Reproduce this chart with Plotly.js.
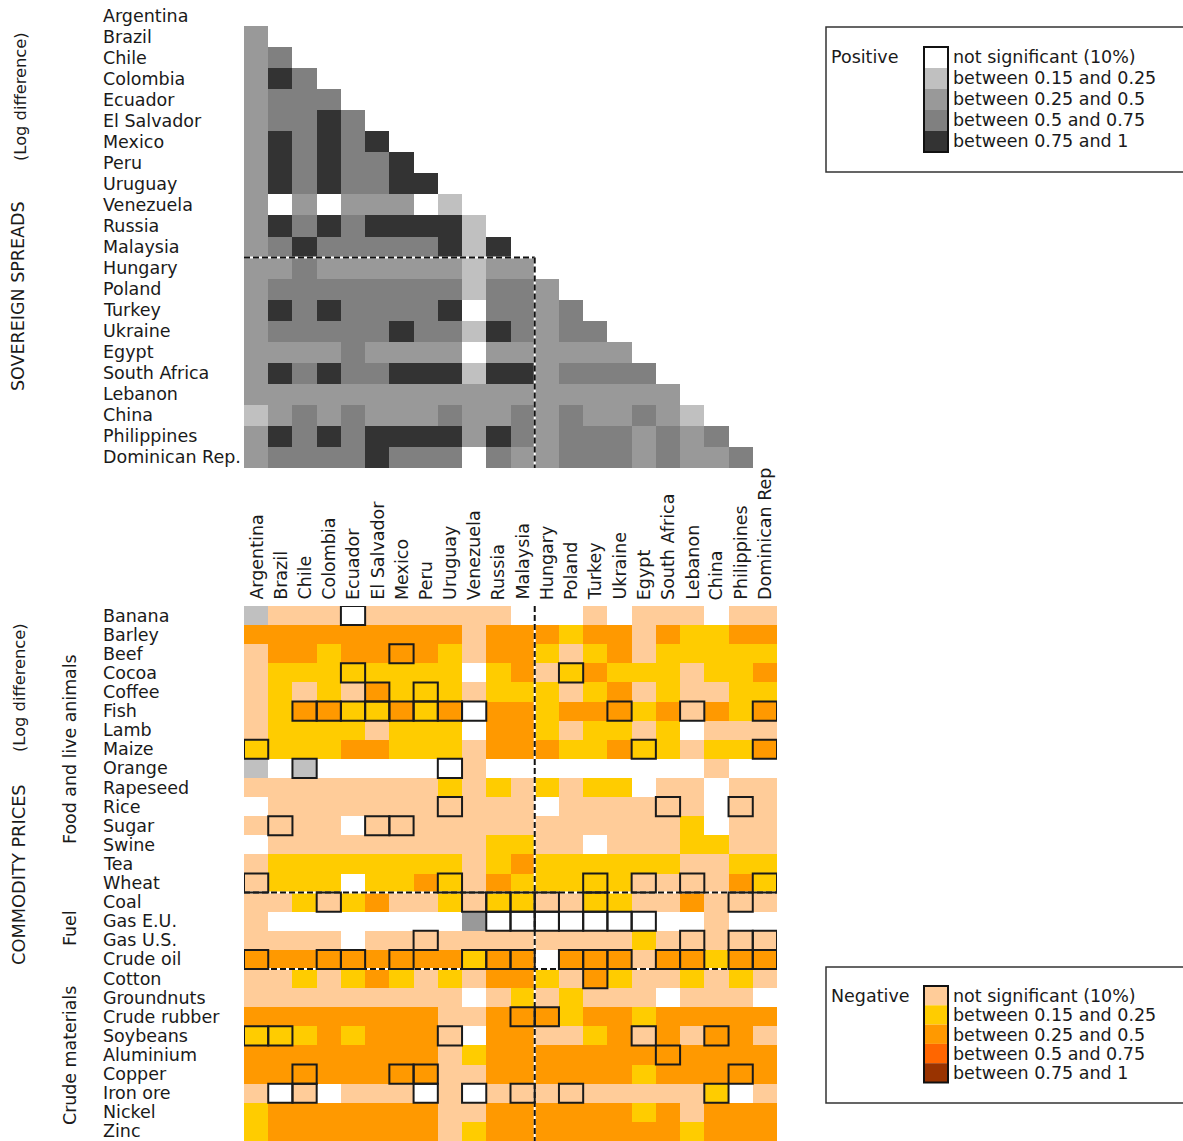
<!DOCTYPE html>
<html><head><meta charset="utf-8">
<script src="https://cdn.plot.ly/plotly-3.0.1.min.js"></script>
<style>html,body{margin:0;padding:0;background:#fff}</style>
</head><body><div id="chart" style="width:1183px;height:1141px"></div>
<script>
// ---------- DATA ----------
const countries = ["Argentina","Brazil","Chile","Colombia","Ecuador","El Salvador","Mexico","Peru","Uruguay","Venezuela","Russia","Malaysia","Hungary","Poland","Turkey","Ukraine","Egypt","South Africa","Lebanon","China","Philippines","Dominican Rep."];
const columnLabels = ["Argentina","Brazil","Chile","Colombia","Ecuador","El Salvador","Mexico","Peru","Uruguay","Venezuela","Russia","Malaysia","Hungary","Poland","Turkey","Ukraine","Egypt","South Africa","Lebanon","China","Philippines","Dominican Rep"];

// level codes: 0 white(pos n.s.),1 .15-.25,2 .25-.5,3 .5-.75,4 .75-1 (positive)
//              5 peach(neg n.s.),6 .15-.25,7 .25-.5,8 .5-.75,9 .75-1 (negative)
const spreadLevels = [
 [],
 [2],
 [2,3],
 [2,4,3],
 [2,3,3,3],
 [2,3,3,4,3],
 [2,4,3,4,3,4],
 [2,4,3,4,3,3,4],
 [2,4,3,4,3,3,4,4],
 [2,0,2,0,2,2,2,0,1],
 [2,4,3,4,3,4,4,4,4,1],
 [2,3,4,3,3,3,3,3,4,1,4],
 [2,2,3,2,2,2,2,2,2,1,2,2],
 [2,3,3,3,3,3,3,3,3,1,3,3,2],
 [2,4,3,4,3,3,3,3,4,0,3,3,2,3],
 [2,3,3,3,3,3,4,3,3,1,4,3,2,3,3],
 [2,2,2,2,3,2,2,2,2,0,2,2,2,2,2,2],
 [2,4,3,4,3,3,4,4,4,1,4,4,2,3,3,3,3],
 [2,2,2,2,2,2,2,2,2,2,2,2,2,2,2,2,2,2],
 [1,2,3,2,3,2,2,2,3,2,2,3,2,3,2,2,3,2,1],
 [2,4,3,4,3,4,4,4,4,2,4,3,2,3,3,3,2,3,2,3],
 [2,3,3,3,3,4,3,3,3,0,3,2,2,3,3,3,2,3,2,2,3]
];

const commodities = ["Banana","Barley","Beef","Cocoa","Coffee","Fish","Lamb","Maize","Orange","Rapeseed","Rice","Sugar","Swine","Tea","Wheat","Coal","Gas E.U.","Gas U.S.","Crude oil","Cotton","Groundnuts","Crude rubber","Soybeans","Aluminium","Copper","Iron ore","Nickel","Zinc"];

const commodityLevels = [
 [1,5,5,5,0,5,5,5,5,5,5,0,0,0,5,0,5,5,5,0,5,5],
 [7,7,7,7,7,7,7,7,7,5,7,7,7,6,7,7,5,7,6,6,7,7],
 [5,7,7,6,7,7,7,7,6,5,7,7,6,5,6,7,5,6,6,6,6,6],
 [5,6,6,6,6,6,6,6,6,0,6,7,5,6,7,6,6,6,5,6,6,7],
 [5,6,5,6,5,7,6,6,6,5,6,6,6,5,6,7,5,6,5,5,6,6],
 [5,6,7,7,6,6,7,6,7,0,7,7,6,7,7,7,6,7,5,7,6,7],
 [5,6,6,6,6,5,6,6,6,0,7,7,6,5,6,6,5,6,0,5,5,5],
 [6,6,6,6,7,7,6,6,6,5,7,7,7,6,6,7,6,6,5,6,6,7],
 [1,0,1,0,0,0,0,0,0,5,0,0,0,0,0,0,0,0,0,5,0,0],
 [5,5,5,5,5,5,5,5,6,5,6,5,6,5,6,6,0,5,5,0,5,5],
 [0,5,5,5,5,5,5,5,5,5,5,5,0,5,5,5,5,5,5,0,5,5],
 [5,5,5,5,0,5,5,5,5,5,5,5,5,5,5,5,5,5,6,0,5,5],
 [0,5,5,5,5,5,5,5,5,5,6,6,5,5,0,5,5,5,6,6,5,5],
 [5,6,6,6,6,6,6,6,6,5,6,7,6,6,6,6,6,6,5,5,6,6],
 [5,6,6,6,0,6,6,7,6,5,7,6,6,6,6,6,5,5,5,5,7,6],
 [5,5,6,5,6,7,5,5,6,5,6,6,5,5,6,6,5,5,7,5,5,5],
 [5,0,0,0,0,0,0,0,0,2,0,0,0,0,0,0,0,0,0,5,0,0],
 [5,5,5,5,0,5,5,5,5,5,5,5,5,5,5,5,6,5,5,5,5,5],
 [7,7,7,7,7,7,7,7,7,6,7,7,0,7,7,7,5,7,7,6,7,7],
 [5,5,6,5,6,7,6,5,6,5,7,7,6,5,7,6,5,5,6,5,6,5],
 [5,5,5,5,5,5,5,5,5,0,5,6,5,6,5,5,5,0,5,5,5,0],
 [7,7,7,7,7,7,7,7,5,5,7,7,7,6,7,7,6,7,7,7,7,7],
 [6,6,6,7,6,7,7,7,5,0,7,7,5,5,6,7,5,7,5,7,7,5],
 [7,7,7,7,7,7,7,7,5,6,7,7,7,7,7,7,7,7,7,7,7,7],
 [7,7,7,7,7,7,7,7,5,5,7,7,7,7,7,7,6,7,7,7,7,7],
 [5,0,5,0,5,5,5,0,5,0,5,5,5,5,5,5,5,5,5,6,0,5],
 [6,7,7,7,7,7,7,7,5,5,7,7,7,7,7,7,6,7,5,7,7,7],
 [6,7,7,7,7,7,7,7,5,6,7,7,7,7,7,7,7,7,6,7,7,7]
];

// outlined (boxed) cells: [commodity, country column]
const boxedCells = [
 ["Banana","Ecuador"],["Beef","Mexico"],["Cocoa","Ecuador"],["Cocoa","Poland"],
 ["Coffee","El Salvador"],["Coffee","Peru"],
 ["Fish","Chile"],["Fish","Colombia"],["Fish","Ecuador"],["Fish","El Salvador"],["Fish","Mexico"],["Fish","Peru"],["Fish","Uruguay"],["Fish","Venezuela"],["Fish","Ukraine"],["Fish","Lebanon"],["Fish","Dominican Rep"],
 ["Maize","Argentina"],["Maize","Egypt"],["Maize","Dominican Rep"],
 ["Orange","Chile"],["Orange","Uruguay"],
 ["Rice","Uruguay"],["Rice","South Africa"],["Rice","Philippines"],
 ["Sugar","Brazil"],["Sugar","El Salvador"],["Sugar","Mexico"],
 ["Wheat","Argentina"],["Wheat","Uruguay"],["Wheat","Turkey"],["Wheat","Egypt"],["Wheat","Lebanon"],["Wheat","Dominican Rep"],
 ["Coal","Colombia"],["Coal","Venezuela"],["Coal","Russia"],["Coal","Malaysia"],["Coal","Hungary"],["Coal","Turkey"],["Coal","Philippines"],
 ["Gas E.U.","Russia"],["Gas E.U.","Malaysia"],["Gas E.U.","Hungary"],["Gas E.U.","Poland"],["Gas E.U.","Turkey"],["Gas E.U.","Ukraine"],["Gas E.U.","Egypt"],
 ["Gas U.S.","Peru"],["Gas U.S.","Lebanon"],["Gas U.S.","Philippines"],["Gas U.S.","Dominican Rep"],
 ["Crude oil","Argentina"],["Crude oil","Colombia"],["Crude oil","Ecuador"],["Crude oil","Mexico"],["Crude oil","Venezuela"],["Crude oil","Russia"],["Crude oil","Malaysia"],["Crude oil","Poland"],["Crude oil","Turkey"],["Crude oil","Ukraine"],["Crude oil","South Africa"],["Crude oil","Lebanon"],["Crude oil","Philippines"],["Crude oil","Dominican Rep"],
 ["Cotton","Turkey"],
 ["Crude rubber","Malaysia"],["Crude rubber","Hungary"],
 ["Soybeans","Argentina"],["Soybeans","Brazil"],["Soybeans","Uruguay"],["Soybeans","Egypt"],["Soybeans","China"],
 ["Aluminium","South Africa"],
 ["Copper","Chile"],["Copper","Mexico"],["Copper","Peru"],["Copper","Philippines"],
 ["Iron ore","Brazil"],["Iron ore","Chile"],["Iron ore","Peru"],["Iron ore","Venezuela"],["Iron ore","Malaysia"],["Iron ore","Poland"],["Iron ore","China"]
];

const positiveColors = ["#ffffff","#c0c0c0","#999999","#808080","#333333"];
const negativeColors = ["#ffcc99","#ffcc00","#ff9900","#ff6600","#993300"];
const legendLabels = ["not significant (10%)","between 0.15 and 0.25","between 0.25 and 0.5","between 0.5 and 0.75","between 0.75 and 1"];

// ---------- BUILD ----------
const W = 1183, H = 1141;
const px = v => v / W, py = v => 1 - v / H;
const allColors = positiveColors.concat(negativeColors);
const cs = [];
allColors.forEach((c, i) => { cs.push([i / 10, c]); cs.push([(i + 1) / 10, c]); });

const nCol = countries.length;
const topZ = spreadLevels.map(r => { const a = new Array(nCol).fill(null); r.forEach((v, j) => a[j] = v); return a; });
const idx = [...Array(nCol).keys()];

const traces = [
 {type:"heatmap", z: topZ, x: idx, y: [...Array(countries.length).keys()], xaxis:"x", yaxis:"y",
  colorscale: cs, zmin:-0.5, zmax:9.5, showscale:false, hoverinfo:"skip"},
 {type:"heatmap", z: commodityLevels, x: idx, y: [...Array(commodities.length).keys()], xaxis:"x2", yaxis:"y2",
  colorscale: cs, zmin:-0.5, zmax:9.5, showscale:false, hoverinfo:"skip"}
];

const font = {family:"DejaVu Sans, Verdana, sans-serif", size:17.5, color:"#1a1a1a"};
const ann = [];
countries.forEach((c, i) => ann.push({text:c, xref:"paper", x:px(101), xanchor:"left", yref:"y", y:i, yanchor:"middle", showarrow:false, font}));
commodities.forEach((c, i) => ann.push({text:c, xref:"paper", x:px(101), xanchor:"left", yref:"y2", y:i, yanchor:"middle", showarrow:false, font}));
columnLabels.forEach((c, j) => ann.push({text:c, xref:"x2", x:j, xanchor:"center", yref:"paper", y:py(602), yanchor:"bottom", textangle:-90, showarrow:false, font}));

const side = [
 ["(Log difference)", 20, 97, 16.3], ["SOVEREIGN SPREADS", 18, 296, 17.5],
 ["(Log difference)", 20, 688, 16.3], ["COMMODITY PRICES", 18, 875, 17.8],
 ["Food and live animals", 70, 749, 17.4], ["Fuel", 70, 928, 17.4], ["Crude materials", 70, 1056, 17.4]
];
side.forEach(s => ann.push({text:s[0], xref:"paper", yref:"paper", x:px(s[1]), y:py(s[2]), xanchor:"center", yanchor:"middle", textangle:-90, showarrow:false, font:{...font, size:s[3]}}));

const shapes = [];
function dashed(xref, yref, x0, y0, x1, y1) {
  shapes.push({type:"line", xref, yref, x0, y0, x1, y1, line:{color:"#ffffff", width:2}});
  shapes.push({type:"line", xref, yref, x0, y0, x1, y1, line:{color:"#111111", width:2, dash:"6px,3px"}});
}
const split = countries.indexOf("Malaysia") + 0.5;
dashed("x","y", -0.5, split, split, split);
dashed("x","y", split, split, split, countries.length - 0.5);
dashed("x2","y2", split, -0.5, split, commodities.length - 0.5);
dashed("x2","y2", -0.5, commodities.indexOf("Wheat") + 0.5, nCol - 0.5, commodities.indexOf("Wheat") + 0.5);
dashed("x2","y2", -0.5, commodities.indexOf("Crude oil") + 0.5, nCol - 0.5, commodities.indexOf("Crude oil") + 0.5);

boxedCells.forEach(b => {
  const r = commodities.indexOf(b[0]), c = columnLabels.indexOf(b[1]);
  shapes.push({type:"rect", xref:"x2", yref:"y2", x0:c - 0.5, x1:c + 0.5, y0:r - 0.5, y1:r + 0.5, line:{color:"#1a1a1a", width:2}, fillcolor:"rgba(0,0,0,0)"});
});

// legends
function legend(title, colors, top, bottom, rows, titleY) {
  shapes.push({type:"rect", xref:"paper", yref:"paper", x0:px(826), x1:px(1195), y0:py(bottom), y1:py(top), line:{color:"#333", width:1.5}});
  const s0 = rows[0] - 10, step = (rows[rows.length-1] - rows[0]) / (rows.length - 1);
  colors.forEach((c, i) => {
    shapes.push({type:"rect", xref:"paper", yref:"paper", x0:px(924), x1:px(948), y0:py(s0 + (i+1)*step), y1:py(s0 + i*step), line:{width:0}, fillcolor:c});
    ann.push({text:legendLabels[i], xref:"paper", yref:"paper", x:px(951), y:py(rows[i]), xanchor:"left", yanchor:"middle", showarrow:false, font});
  });
  shapes.push({type:"rect", xref:"paper", yref:"paper", x0:px(924), x1:px(948), y0:py(s0 + colors.length*step), y1:py(s0), line:{color:"#111", width:2}});
  ann.push({text:title, xref:"paper", yref:"paper", x:px(829), y:py(titleY), xanchor:"left", yanchor:"middle", showarrow:false, font});
}
legend("Positive", positiveColors, 27, 172, [57,78,99,120,141], 57);
legend("Negative", negativeColors, 967, 1103, [996,1015.3,1034.6,1053.9,1073.2], 996);

const axBase = {visible:false, showgrid:false, zeroline:false, fixedrange:true};
const layout = {
  width:W, height:H, margin:{l:0,r:0,t:0,b:0}, paper_bgcolor:"#fff", plot_bgcolor:"rgba(0,0,0,0)",
  xaxis:{...axBase, domain:[px(244), px(777)], range:[-0.5, nCol - 0.5], anchor:"y"},
  yaxis:{...axBase, domain:[py(468), py(5)], range:[countries.length - 0.5, -0.5], anchor:"x"},
  xaxis2:{...axBase, domain:[px(244), px(777)], range:[-0.5, nCol - 0.5], anchor:"y2"},
  yaxis2:{...axBase, domain:[0, py(606)], range:[commodities.length - 0.5, -0.5], anchor:"x2"},
  shapes, annotations: ann, showlegend:false
};
Plotly.newPlot("chart", traces, layout, {displayModeBar:false, staticPlot:true});
</script></body></html>
